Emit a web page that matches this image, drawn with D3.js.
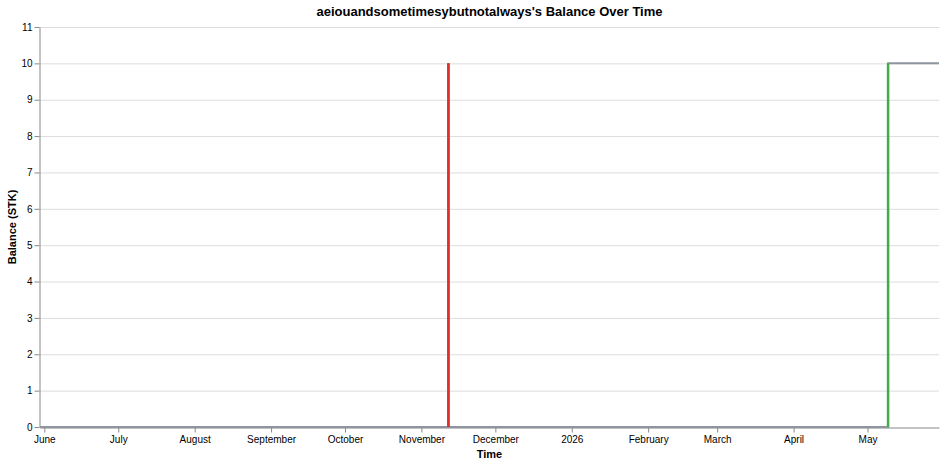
<!DOCTYPE html>
<html>
<head>
<meta charset="utf-8">
<script src="https://cdn.jsdelivr.net/npm/d3@7"></script>
<style>
  body { margin: 0; background: #fff; }
  text { font-family: "Liberation Sans", Arial, sans-serif; }
</style>
</head>
<body>
<div id="chart"></div>
<script>
// balance history (step series)
var dates = ['2025-05-30T06:00Z', '2025-11-11T23:00Z', '2025-11-11T23:00Z', '2026-05-09T08:00Z', '2026-05-30T00:00Z'];
var balances = [0, 10, 0, 10, 10];

// vertical change segments: [date, from, to]
var changeDates = ['2025-11-11T23:00Z', '2025-11-11T23:00Z', '2026-05-09T08:00Z'];
var changeFrom = [0, 10, 0];
var changeTo = [10, 0, 10];

var yTicks = [0, 1, 2, 3, 4, 5, 6, 7, 8, 9, 10, 11];

var data = dates.map(function(d, i) { return { t: new Date(d), v: balances[i] }; });
var changes = changeDates.map(function(d, i) {
  return { t: new Date(d), from: changeFrom[i], to: changeTo[i] };
});

var margin = { top: 27, right: 7, bottom: 37, left: 40 },
  width = 946 - margin.left - margin.right,
  height = 464 - margin.top - margin.bottom;

var svg = d3.select('#chart').append('svg')
  .attr('width', 946)
  .attr('height', 464);

var chart = svg.append('g')
  .attr('transform', 'translate(' + margin.left + ',' + margin.top + ')');

var xScale = d3.scaleUtc()
  .domain(d3.extent(data, function(d) { return d.t; }))
  .range([0, width]);

var yScale = d3.scaleLinear()
  .domain([0, 11])
  .range([height, 0]);

// grid
chart.append('g')
  .selectAll('line')
  .data(yTicks.slice(1))
  .enter().append('line')
  .attr('x1', 0)
  .attr('x2', width)
  .attr('y1', function(d) { return yScale(d) + 0.5; })
  .attr('y2', function(d) { return yScale(d) + 0.5; })
  .style('stroke', '#ddd');

function monthFmt(d) {
  return d.getUTCMonth() === 0 ? d3.utcFormat('%Y')(d) : d3.utcFormat('%B')(d);
}

var xAxis = chart.append('g')
  .attr('transform', 'translate(0,' + (height + 0.5) + ')')
  .call(d3.axisBottom(xScale).ticks(d3.utcMonth.every(1)).tickFormat(monthFmt).tickSize(5).tickSizeOuter(0));

var yAxis = chart.append('g')
  .attr('transform', 'translate(-0.5,0)')
  .call(d3.axisLeft(yScale).tickValues(yTicks).tickSize(5).tickSizeOuter(0));

[xAxis, yAxis].forEach(function(a) {
  a.select('.domain').style('stroke', '#888');
  a.selectAll('.tick line').style('stroke', '#888');
  a.selectAll('.tick text').style('font-size', '10px').style('fill', '#000')
    .style('font-family', '"Liberation Sans", Arial, sans-serif');
});
xAxis.selectAll('.tick text').attr('dy', '0.9em').attr('y', 6);
yAxis.selectAll('.tick text').attr('x', -7);

// balance line
var line = d3.line()
  .x(function(d) { return xScale(d.t); })
  .y(function(d) { return yScale(d.v); })
  .curve(d3.curveStepAfter);

chart.append('path')
  .datum(data)
  .attr('d', line)
  .style('fill', 'none')
  .style('stroke', '#8e95a1')
  .style('stroke-width', 2);

// change segments
chart.selectAll('.change')
  .data(changes)
  .enter().append('line')
  .attr('class', 'change')
  .attr('x1', function(d) { return xScale(d.t); })
  .attr('x2', function(d) { return xScale(d.t); })
  .attr('y1', function(d) { return yScale(d.from); })
  .attr('y2', function(d) { return yScale(d.to); })
  .style('stroke', function(d) { return d.to > d.from ? '#3fae49' : '#e0302a'; })
  .style('stroke-width', 2.5);

// titles
svg.append('text')
  .attr('x', margin.left + width / 2)
  .attr('y', 16)
  .attr('text-anchor', 'middle')
  .style('font-size', '13px')
  .style('font-weight', 'bold')
  .text("aeiouandsometimesybutnotalways's Balance Over Time");

svg.append('text')
  .attr('x', margin.left + width / 2)
  .attr('y', 458)
  .attr('text-anchor', 'middle')
  .style('font-size', '11px')
  .style('font-weight', 'bold')
  .text('Time');

svg.append('text')
  .attr('text-anchor', 'middle')
  .attr('transform', 'translate(16,' + (margin.top + height / 2) + ')rotate(-90)')
  .style('font-size', '11px')
  .style('font-weight', 'bold')
  .text('Balance (STK)');
</script>
</body>
</html>
